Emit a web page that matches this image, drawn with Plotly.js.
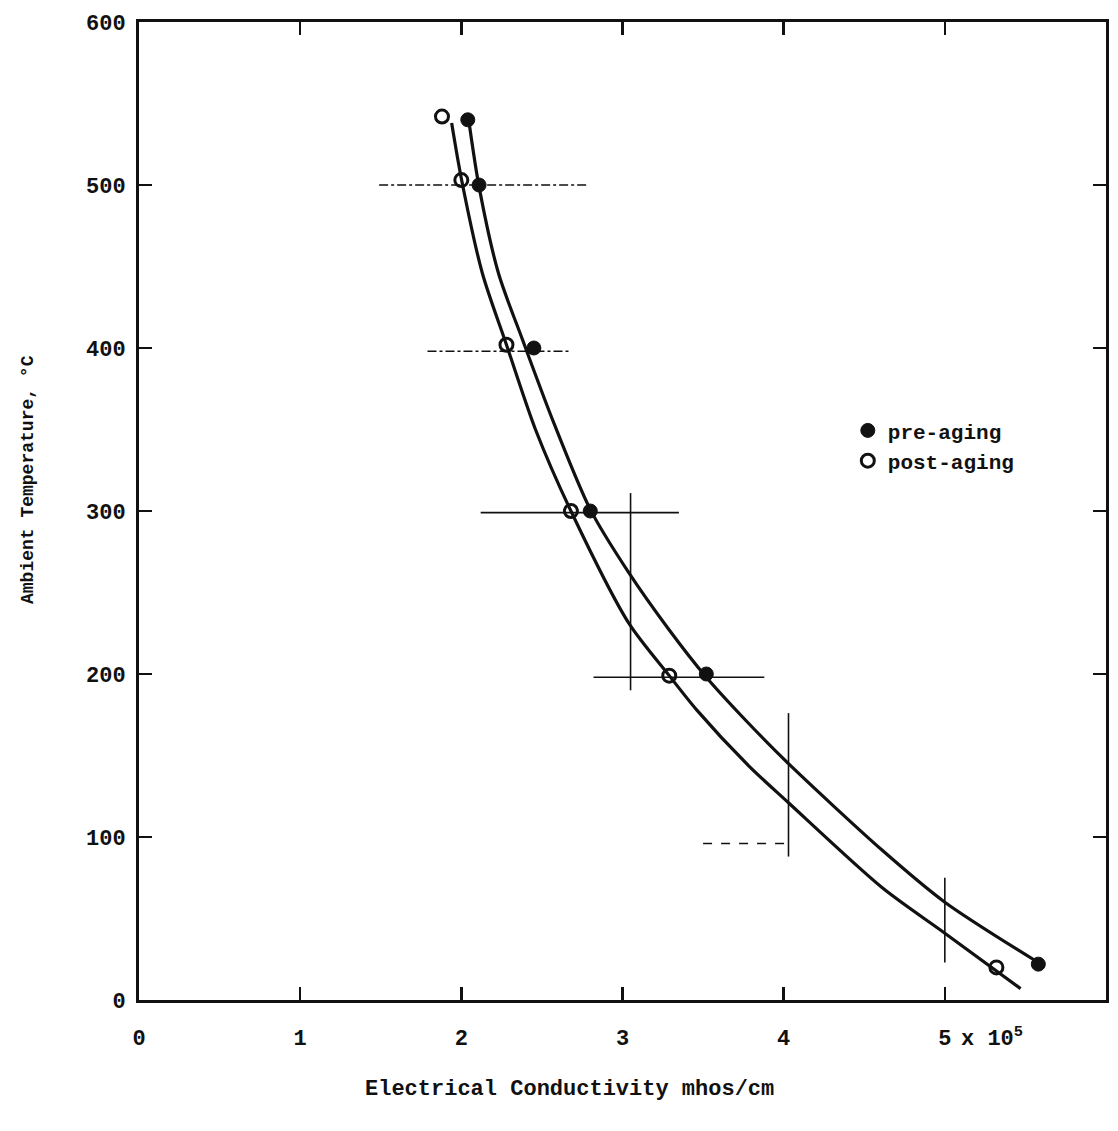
<!DOCTYPE html>
<html>
<head>
<meta charset="utf-8">
<script src="https://cdn.plot.ly/plotly-3.0.1.min.js"></script>
<style>html,body{margin:0;padding:0;background:#fff;}</style>
</head>
<body>
<div id="chart" style="width:1118px;height:1131px;"></div>
<script>
// Measured points (conductivity x 10^5 mhos/cm, temperature °C)
const preX  = [2.04, 2.11, 2.45, 2.80, 3.52, 5.58];
const preY  = [540, 500, 400, 300, 200, 22];
const postX = [1.88, 2.00, 2.28, 2.68, 3.29, 5.32];
const postY = [542, 503, 402, 300, 199, 20];

// Hand-drawn fitted curves
const preCurveX  = [2.05, 2.11, 2.23, 2.38, 2.57, 2.80, 3.04, 3.29, 3.52, 3.77, 4.03, 4.61, 5.00, 5.58];
const preCurveY  = [537, 499, 446, 405, 355, 301, 262, 227, 198, 171, 145, 92, 60, 23];
const postCurveX = [1.94, 2.00, 2.13, 2.28, 2.46, 2.68, 3.04, 3.29, 3.46, 3.78, 4.03, 4.61, 5.00, 5.47];
const postCurveY = [538, 504, 446, 402, 350, 300, 231, 199, 178, 144, 121, 69, 41, 7];

// Guide lines drawn on the chart
const hGuideY   = [500, 398, 299, 198, 96];
const hGuideX0  = [1.49, 1.79, 2.12, 2.82, 3.50];
const hGuideX1  = [2.79, 2.67, 3.35, 3.88, 4.03];
const hGuideDash = ['dashdot', 'dashdot', 'solid', 'solid', 'dash'];
const vGuideX   = [3.05, 4.03, 5.00];
const vGuideY0  = [190, 88, 23];
const vGuideY1  = [311, 176, 75];

// Axis ticks
const xTickVals = [0, 1, 2, 3, 4, 5];
const xTickText = ['0', '1', '2', '3', '4', '5'];
const yTickVals = [0, 100, 200, 300, 400, 500, 600];
const yTickText = ['0', '100', '200', '300', '400', '500', '600'];

const FONT = '"Liberation Mono", "DejaVu Sans Mono", monospace';
const traces = [];

for (let i = 0; i < hGuideY.length; i++) {
  traces.push({x: [hGuideX0[i], hGuideX1[i]], y: [hGuideY[i], hGuideY[i]], mode: 'lines',
    line: {color: '#111', width: 1.6, dash: hGuideDash[i]}, showlegend: false, hoverinfo: 'skip'});
}
for (let i = 0; i < vGuideX.length; i++) {
  traces.push({x: [vGuideX[i], vGuideX[i]], y: [vGuideY0[i], vGuideY1[i]], mode: 'lines',
    line: {color: '#111', width: 1.6}, showlegend: false, hoverinfo: 'skip'});
}
traces.push({x: preCurveX, y: preCurveY, mode: 'lines', line: {color: '#111', width: 3.2, shape: 'spline', smoothing: 0.8},
  showlegend: false, hoverinfo: 'skip'});
traces.push({x: postCurveX, y: postCurveY, mode: 'lines', line: {color: '#111', width: 3.2, shape: 'spline', smoothing: 0.8},
  showlegend: false, hoverinfo: 'skip'});
traces.push({x: preX, y: preY, mode: 'markers', name: 'pre-aging',
  marker: {symbol: 'circle', size: 14, color: '#111', line: {color: '#111', width: 1}}});
traces.push({x: postX, y: postY, mode: 'markers', name: 'post-aging',
  marker: {symbol: 'circle-open', size: 13, color: '#111', line: {color: '#111', width: 3}}});

const axisCommon = {
  showgrid: false, zeroline: false, showline: true, linecolor: '#111', linewidth: 3,
  mirror: 'ticks', ticks: 'inside', ticklen: 13, tickwidth: 2.5, tickcolor: '#111',
  tickfont: {family: FONT, size: 22, color: '#111', weight: 'bold'}, fixedrange: true
};

const layout = {
  width: 1118, height: 1131,
  margin: {l: 139, r: 12, t: 22, b: 131},
  paper_bgcolor: '#fff', plot_bgcolor: '#fff',
  font: {family: FONT, color: '#111'},
  xaxis: Object.assign({}, axisCommon, {range: [0, 6], tickmode: 'array', tickvals: xTickVals, ticktext: xTickText,
    ticklabelstandoff: 16}),
  yaxis: Object.assign({}, axisCommon, {range: [0, 600], tickmode: 'array', tickvals: yTickVals, ticktext: yTickText,
    ticklabelstandoff: 6}),
  legend: {x: 0.733, y: 0.603, xanchor: 'left', yanchor: 'top', bgcolor: 'rgba(0,0,0,0)',
    font: {family: FONT, size: 21, color: '#111', weight: 'bold'}, itemwidth: 30, tracegroupgap: 0},
  showlegend: true,
  annotations: [
    {xref: 'x', yref: 'paper', x: 5.09, y: -0.038, xanchor: 'left', yanchor: 'middle', showarrow: false,
      text: 'x 10<sup>5</sup>', font: {family: FONT, size: 22, color: '#111', weight: 'bold'}},
    {xref: 'paper', yref: 'paper', x: (569 - 139) / 967, y: (1000 - 1089) / 978, xanchor: 'center', yanchor: 'middle',
      showarrow: false, text: 'Electrical Conductivity mhos/cm', font: {family: FONT, size: 22, color: '#111', weight: 'bold'}},
    {xref: 'paper', yref: 'paper', x: (28 - 139) / 967, y: (1000 - 480) / 978, xanchor: 'center', yanchor: 'middle',
      showarrow: false, textangle: -90, text: 'Ambient Temperature, °C', font: {family: FONT, size: 18, color: '#111', weight: 'bold'}}
  ]
};

Plotly.newPlot('chart', traces, layout, {displayModeBar: false, staticPlot: true});
</script>
</body>
</html>
